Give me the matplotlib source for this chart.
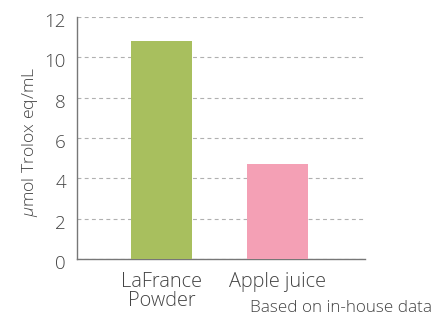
import numpy as np
import matplotlib.pyplot as plt
import matplotlib.transforms as mtransforms

plt.rcParams['font.family'] = ['Open Sans', 'DejaVu Sans']
plt.rcParams['font.weight'] = 'light'
plt.rcParams['mathtext.fontset'] = 'custom'
plt.rcParams['mathtext.rm'] = 'Open Sans:light'
plt.rcParams['mathtext.it'] = 'Open Sans:italic:light'

# данные
categories = ['LaFrance\nPowder', 'Apple juice']
values = [10.8, 4.7]
colors = ['#a8bf5e', '#f4a0b5']
yticks = [0, 2, 4, 6, 8, 10, 12]

fig = plt.figure(figsize=(4.48, 3.18), dpi=100)
ax = fig.add_axes([0.172, 0.1855, 0.643, 0.761])

x = np.arange(len(categories))
ax.bar(x, values, width=0.526, color=colors, zorder=3)

ax.set_xlim(-0.728, 1.754)
ax.set_ylim(0, 12)
ax.set_yticks(yticks)
ax.set_xticks(x)
ax.set_xticklabels(categories, fontsize=14.3, color='#444444', linespacing=0.95)
ax.tick_params(axis='y', length=0, labelsize=13.5, colors='#444444', pad=8)
ax.tick_params(axis='x', length=0, colors='#444444', pad=9)

# подписи оси Y чуть ниже линий
off = mtransforms.ScaledTranslation(0, -3 / 100, fig.dpi_scale_trans)
for lab in ax.get_yticklabels():
    lab.set_transform(lab.get_transform() + off)

ax.yaxis.grid(True, linestyle=(0, (3.5, 3)), color='#b0b0b0', linewidth=0.8, zorder=0)
for s in ['top', 'right']:
    ax.spines[s].set_visible(False)
for s in ['left', 'bottom']:
    ax.spines[s].set_color('#777777')
    ax.spines[s].set_linewidth(1.0)

ax.set_ylabel(r'$\mu$mol Trolox eq/mL', fontsize=12.6, color='#444444',
              fontweight='light')
ax.yaxis.set_label_coords(-0.13, 0.483)

fig.text(0.964, 0.03, 'Based on in-house data', ha='right', va='center',
         fontsize=12.3, color='#444444')

fig.savefig('out.png', dpi=100)
